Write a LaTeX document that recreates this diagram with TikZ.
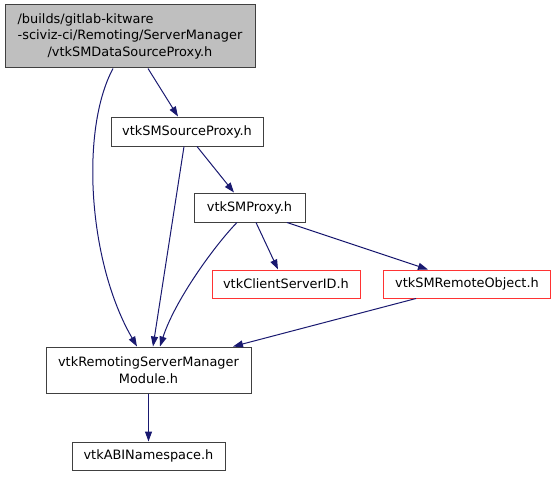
\documentclass[tikz,border=0pt]{standalone}
\usepackage{fontspec}
\setmainfont{DejaVu Sans}
\usetikzlibrary{arrows.meta}
\definecolor{edgeblue}{HTML}{191970}
\definecolor{nodegray}{HTML}{BFBFBF}
\definecolor{bordergray}{HTML}{404040}
\definecolor{trunc}{HTML}{FF3333}
\begin{document}
\begin{tikzpicture}[x=1pt,y=-1pt,
  every node/.style={font=\fontsize{12.9}{16.5}\selectfont, inner sep=0pt, text=black},
  filebox/.style={draw=bordergray, line width=1pt, fill=white, minimum height=29pt},
  truncbox/.style={draw=trunc, line width=1pt, fill=white, minimum height=29pt},
  dep/.style={draw=edgeblue, line width=1pt, -{Triangle[length=10pt,width=7pt]}}
]
\useasboundingbox (0,0) rectangle (556,476);

\node[filebox, fill=nodegray, minimum width=250pt, minimum height=63pt] (top) at (130,36.5)
  {\renewcommand{\arraystretch}{1}\begin{tabular}{@{}l@{}}/builds/gitlab-kitware\\-sciviz-ci/Remoting/ServerManager\\\multicolumn{1}{@{}c@{}}{/vtkSMDataSourceProxy.h}\end{tabular}};
\node[filebox, minimum width=152pt] (src) at (187,131.5) {vtkSMSourceProxy.h};
\node[filebox, minimum width=111pt] (proxy) at (249.5,207.5) {vtkSMProxy.h};
\node[truncbox, minimum width=148pt, minimum height=28pt] (csid) at (286,284) {vtkClientServerID.h};
\node[truncbox, minimum width=167pt, minimum height=28pt] (remote) at (467,284) {vtkSMRemoteObject.h};
\node[filebox, minimum width=205pt, minimum height=46pt, align=center] (module) at (148.5,370)
  {vtkRemotingServerManager\\Module.h};
\node[filebox, minimum width=153pt, minimum height=28pt] (abi) at (148.5,456) {vtkABINamespace.h};

\draw[dep] ([xshift=18pt]top.south) -- ([xshift=-9pt]src.north);
\draw[dep] ([xshift=-17pt]top.south) .. controls (80,130) and (88,262) .. ([xshift=-11.5pt]module.north);
\draw[dep] ([xshift=-3pt]src.south) -- ([xshift=4.5pt]module.north);
\draw[dep] ([xshift=10pt]src.south) -- ([xshift=-15.5pt]proxy.north);
\draw[dep] ([xshift=-12.5pt]proxy.south) .. controls (215,245) and (175,300) .. ([xshift=11.5pt]module.north);
\draw[dep] ([xshift=6.5pt]proxy.south) -- ([xshift=-8pt]csid.north);
\draw[dep] ([xshift=37.5pt]proxy.south) -- ([xshift=-39pt]remote.north);
\draw[dep] ([xshift=-51pt]remote.south) -- ([xshift=84.5pt]module.north);
\draw[dep] (module.south) -- (abi.north);
\end{tikzpicture}
\end{document}
